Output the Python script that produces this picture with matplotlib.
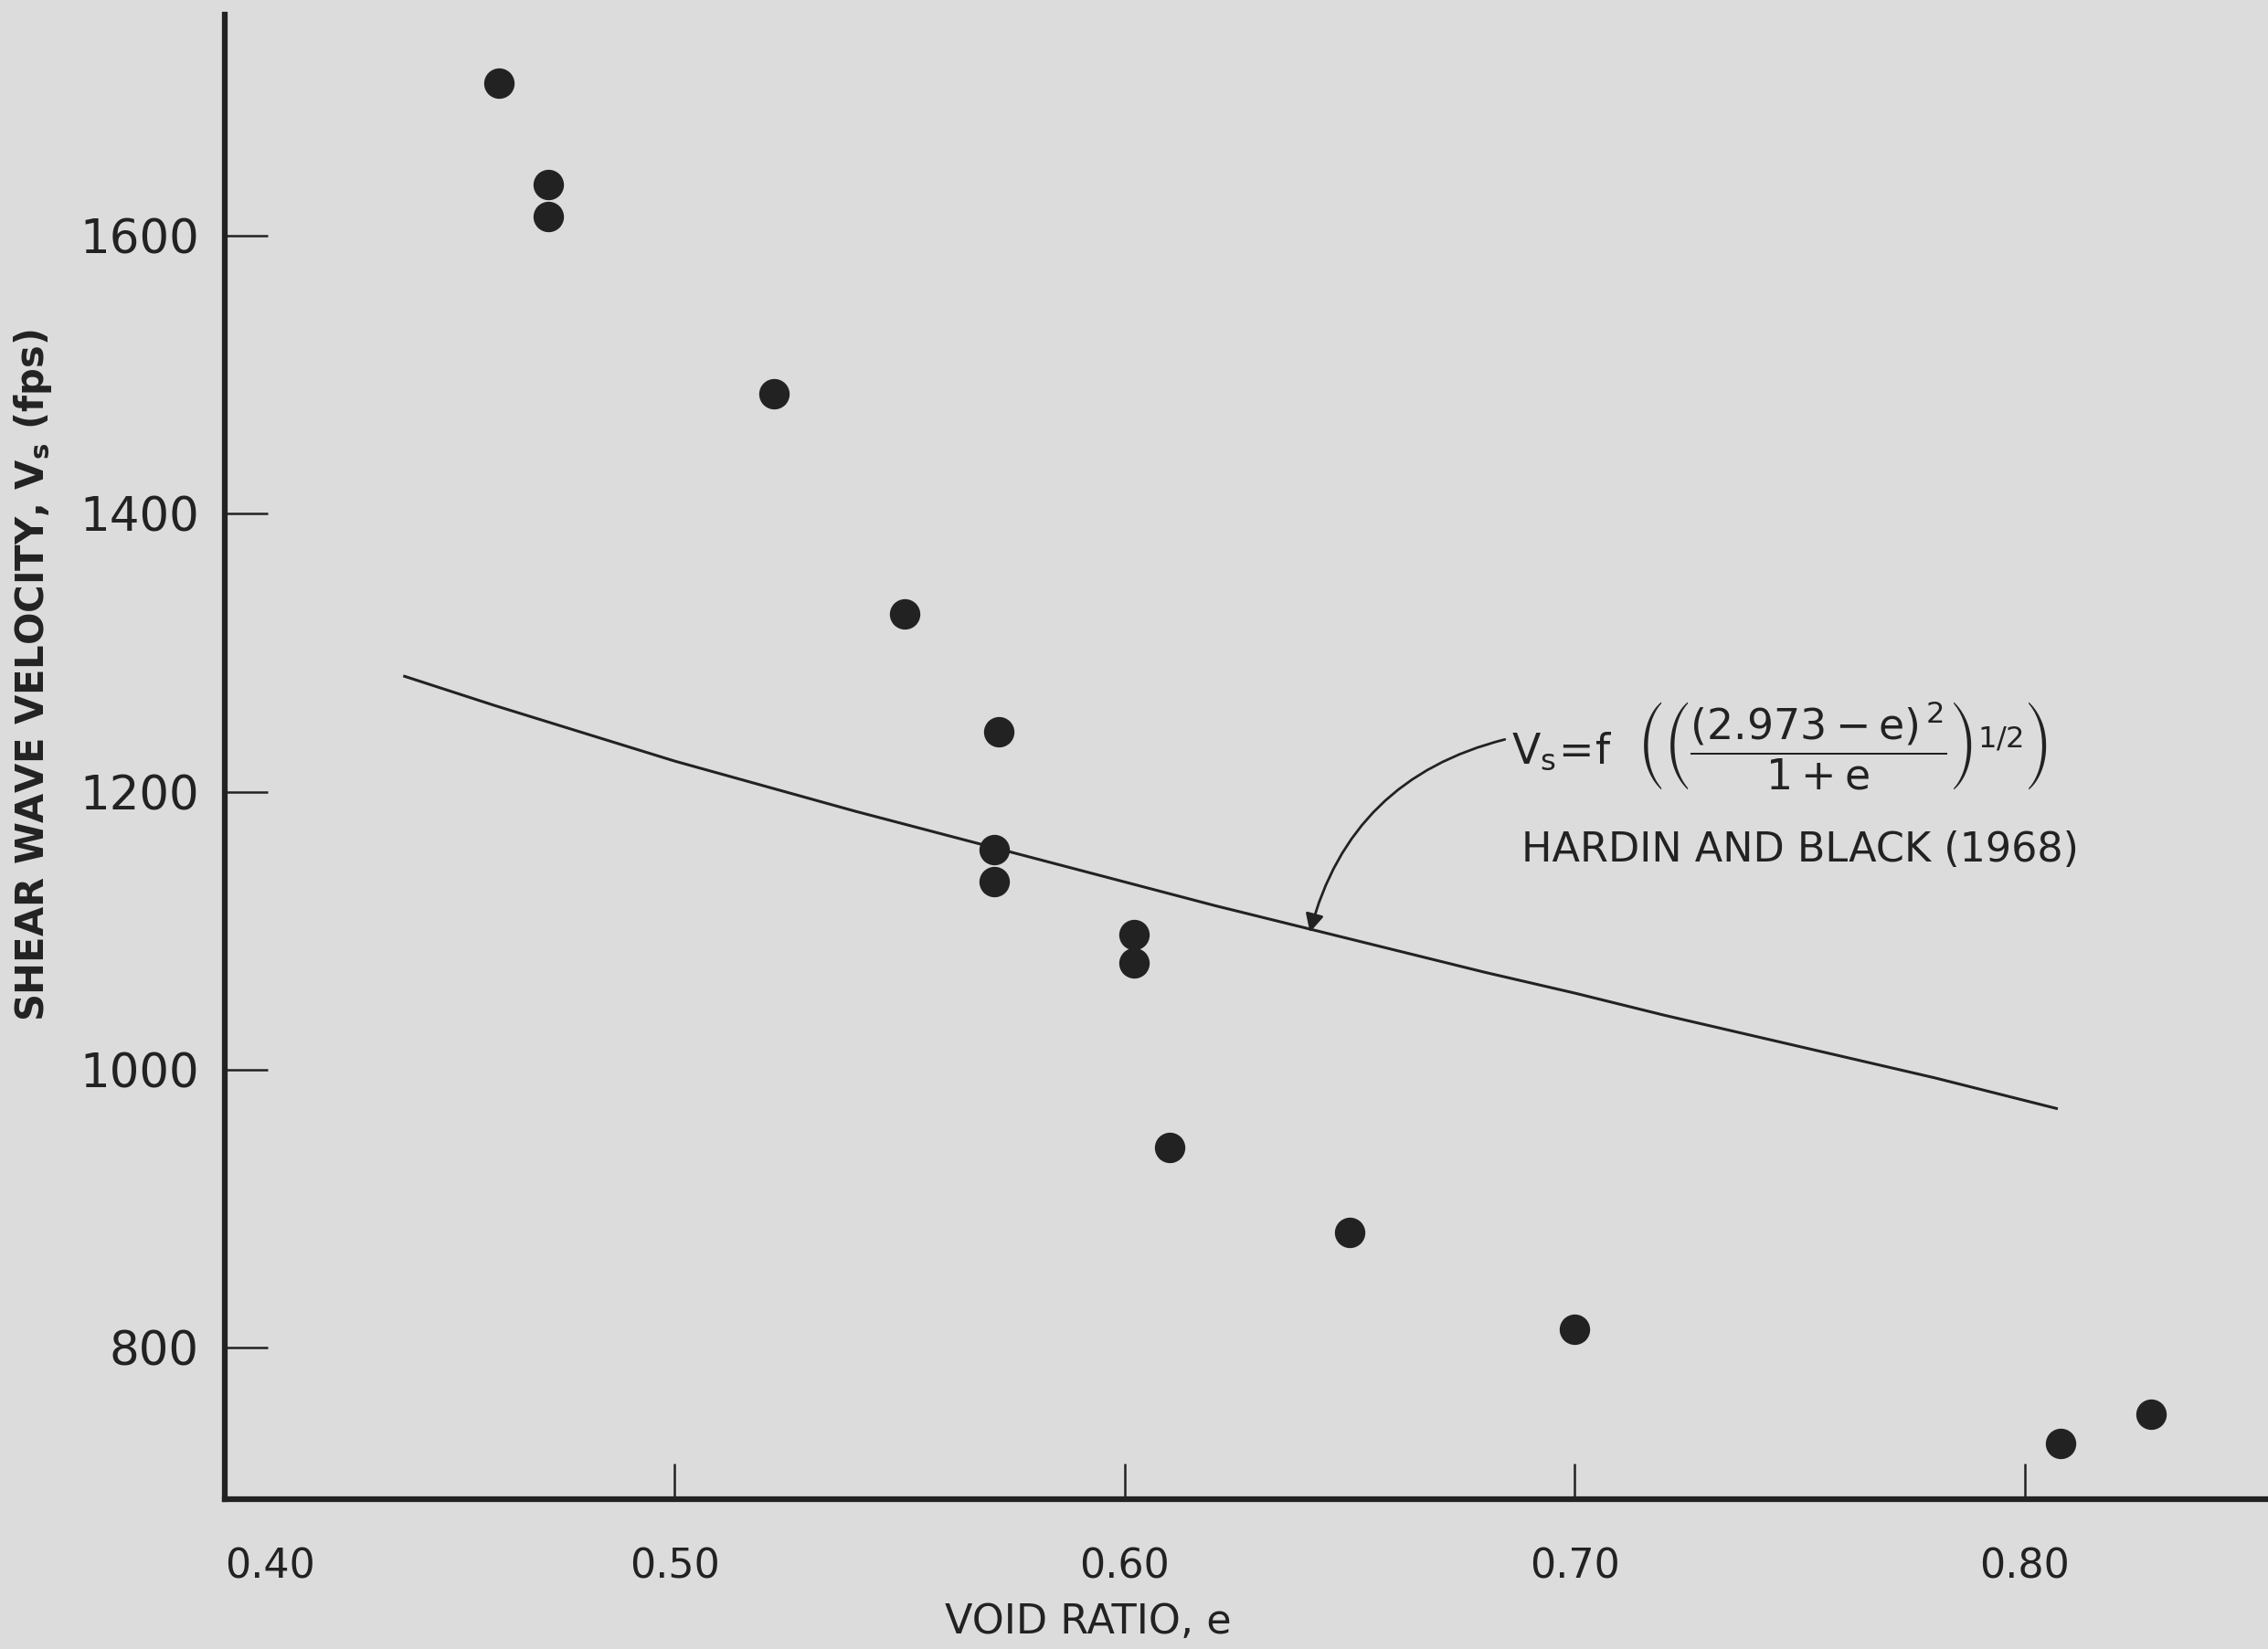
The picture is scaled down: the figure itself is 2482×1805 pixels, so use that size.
import numpy as np
import matplotlib.pyplot as plt

plt.rcParams["mathtext.default"] = "regular"

# measured points (void ratio vs shear wave velocity)
void_ratio = [0.461, 0.472, 0.472, 0.522, 0.551, 0.572, 0.571, 0.571,
              0.602, 0.602, 0.610, 0.650, 0.700, 0.808, 0.828]
vs_fps = [1710, 1637, 1614, 1486, 1328, 1243, 1158, 1135,
          1097, 1077, 944, 883, 813, 731, 752]

# Hardin and Black (1968) curve
curve_e = [0.44, 0.46, 0.48, 0.50, 0.52, 0.54, 0.56, 0.58, 0.60, 0.62,
           0.64, 0.66, 0.68, 0.70, 0.72, 0.74, 0.76, 0.78, 0.807]
curve_vs = [1283, 1262, 1242, 1222, 1204, 1186, 1169, 1152, 1135, 1118,
            1102, 1086, 1070, 1055, 1039, 1024, 1009, 994, 972]

x_ticks = [0.40, 0.50, 0.60, 0.70, 0.80]
x_labels = ["0.40", "0.50", "0.60", "0.70", "0.80"]
y_ticks = [800, 1000, 1200, 1400, 1600]
y_labels = ["800", "1000", "1200", "1400", "1600"]

bg = "#dcdcdc"
ink = "#222222"

fig = plt.figure(figsize=(24.82, 18.05), dpi=100, facecolor=bg)
ax = fig.add_axes([0.099, 0.091, 0.901, 0.900], facecolor=bg)

ax.plot(void_ratio, vs_fps, "o", color=ink, markersize=23, zorder=3)
ax.plot(curve_e, curve_vs, color=ink, linewidth=2.2)

ax.set_xlim(0.40, 0.854)
ax.set_ylim(691, 1759)

for side in ["top", "right"]:
    ax.spines[side].set_visible(False)
for side in ["left", "bottom"]:
    ax.spines[side].set_linewidth(4.5)
    ax.spines[side].set_color(ink)

ax.set_xticks(x_ticks)
ax.set_xticklabels(x_labels)
ax.set_yticks(y_ticks)
ax.set_yticklabels(y_labels)
ax.tick_params(axis="x", direction="in", length=28, width=1.8, colors=ink,
               labelsize=32, pad=38)
ax.tick_params(axis="y", direction="in", length=34, width=1.8, colors=ink,
               labelsize=37, pad=20)
ax.get_xticklabels()[0].set_horizontalalignment("left")

ax.set_xlabel("VOID RATIO, e", fontsize=32, color=ink, va="center")
ax.xaxis.set_label_coords(0.4225, -0.083)
ax.set_ylabel(r"SHEAR WAVE VELOCITY, V$_s$ (fps)", fontsize=30,
              color=ink, fontweight="bold", va="center")
ax.yaxis.set_label_coords(-0.094, 0.555)

formula = (r"$V_s\!=\!f\ \ \left(\left(\dfrac{(2.973-e)^{\,2}}{1+e}\right)"
           r"^{1/2}\right)$")
ax.text(0.686, 1233, formula, fontsize=33, color=ink, va="center", ha="left")
ax.text(0.750, 1158, "HARDIN AND BLACK (1968)", fontsize=32, color=ink,
        va="center", ha="center")

ax.annotate("", xy=(0.641, 1097), xytext=(0.685, 1238),
            arrowprops=dict(arrowstyle="-|>", color=ink, lw=2,
                            mutation_scale=30,
                            connectionstyle="arc3,rad=0.3"))

fig.savefig("out.png", dpi=100, facecolor=bg)
